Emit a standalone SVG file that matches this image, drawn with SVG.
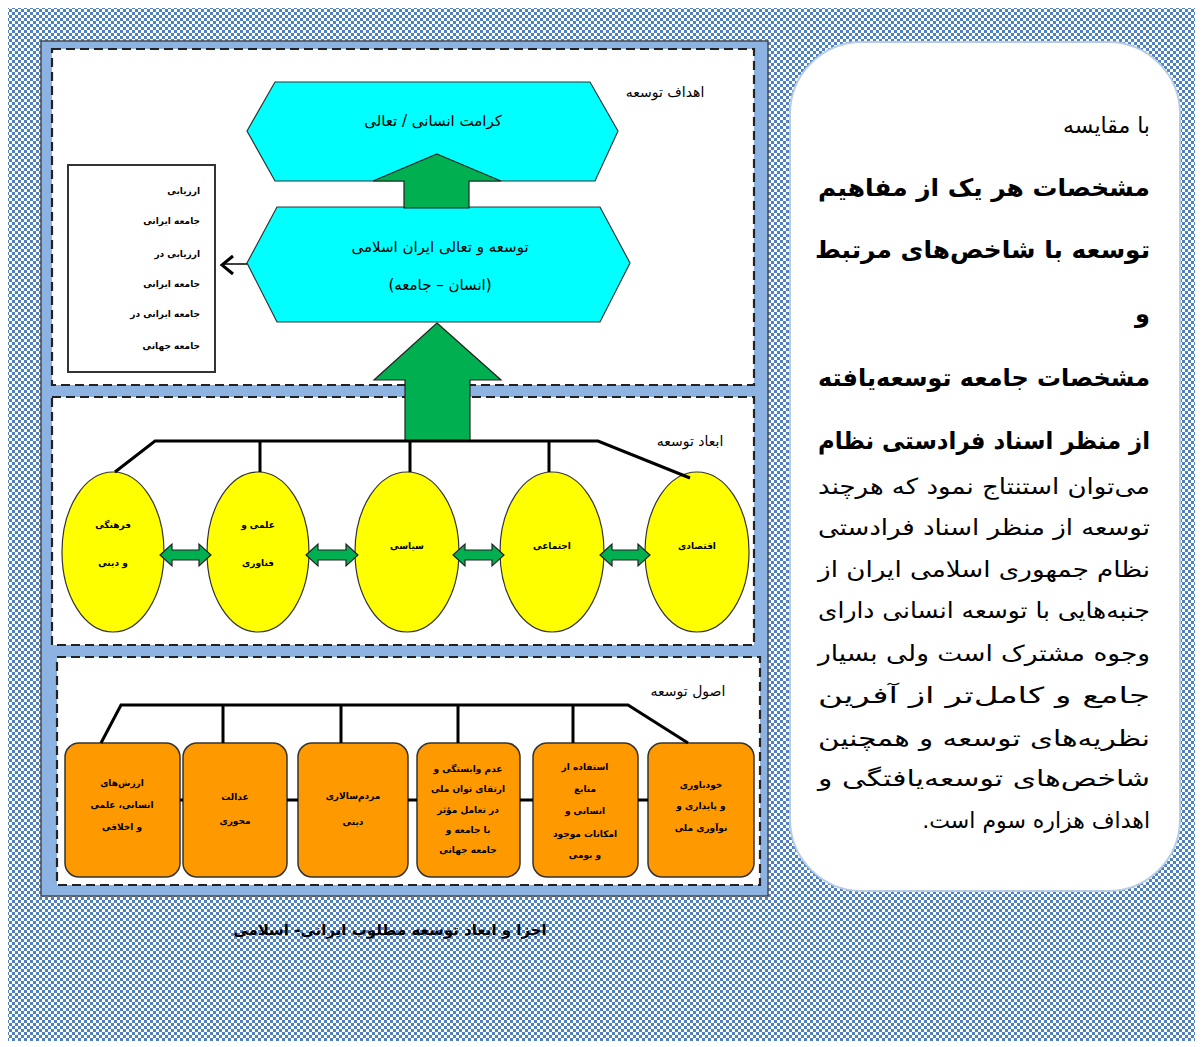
<svg xmlns="http://www.w3.org/2000/svg" width="1201" height="1047" viewBox="0 0 1201 1047">
<style>
.fa{font-family:"DejaVu Sans","Noto Sans",sans-serif;fill:#000;}
.rtl{direction:rtl;}
.lbl{font-size:14px;}
.hex{fill:#00ffff;stroke:#333;stroke-width:1.2;}
.garrow{fill:#00b050;stroke:#222;stroke-width:1.2;}
.ell{fill:#ffff00;stroke:#333;stroke-width:1.2;}
.box{fill:#ff9900;stroke:#333;stroke-width:1.5;}
.panel{fill:#fff;stroke:#222;stroke-width:2.2;stroke-dasharray:9 5;}
.brk{fill:none;stroke:#000;stroke-width:3;}
.tiny{font-size:9px;font-weight:bold;}
.big{font-size:24px;font-weight:bold;}
.body{font-size:22px;}
</style>
<defs>
<pattern id="chk" width="6" height="6" patternUnits="userSpaceOnUse">
<rect width="6" height="6" fill="#ffffff"/>
<rect width="3" height="3" fill="#4f80c4"/>
<rect x="3" y="3" width="3" height="3" fill="#4f80c4"/>
</pattern>
</defs>
<rect width="1201" height="1047" fill="#fff"/>
<rect x="8" y="8" width="1187" height="1033" fill="url(#chk)"/>

<g id="frame">
<rect x="41" y="41" width="727" height="855" fill="#8db3e2" stroke="#4a4a4a" stroke-width="1.5"/>
<rect class="panel" x="52" y="49" width="702" height="336"/>
<rect class="panel" x="52" y="397" width="702" height="248"/>
<rect class="panel" x="57" y="657" width="703" height="228"/>
<text class="fa lbl" x="665" y="97" text-anchor="middle">اهداف توسعه</text>
<text class="fa lbl" x="690" y="446" text-anchor="middle">ابعاد توسعه</text>
<text class="fa lbl" x="688" y="696" text-anchor="middle">اصول توسعه</text>
</g>

<g id="hex-goal">
<polygon class="hex" points="275,82 590,82 618,131 595,181 275,181 247,131"/>
<text class="fa rtl" x="433" y="126" text-anchor="middle" font-size="15">کرامت انسانی / تعالی</text>
</g>
<g id="hex-dev">
<polygon class="hex" points="277,207 600,207 630,263 600,322 277,322 247,263"/>
<text class="fa rtl" x="440" y="252" text-anchor="middle" font-size="15">توسعه و تعالی ایران اسلامی</text>
<text class="fa rtl" x="440" y="290" text-anchor="middle" font-size="15">(انسان – جامعه)</text>
</g>
<g id="left-box">
<rect x="68" y="165" width="147" height="207" fill="#fff" stroke="#333" stroke-width="2"/>
<g class="fa tiny rtl" text-anchor="start">
<text x="200" y="194">ارزیابی</text>
<text x="200" y="224">جامعه ایرانی</text>
<text x="200" y="257">ارزیابی در</text>
<text x="200" y="287">جامعه ایرانی</text>
<text x="200" y="317">جامعه ایرانی در</text>
<text x="200" y="349">جامعه جهانی</text>
</g>
</g>

<g id="dim-cultural"><ellipse class="ell" cx="113" cy="552" rx="51" ry="80"/>
<text class="fa tiny rtl" x="113" y="528" text-anchor="middle">فرهنگی</text><text class="fa tiny rtl" x="113" y="566" text-anchor="middle">و دینی</text></g>
<g id="dim-science"><ellipse class="ell" cx="258" cy="552" rx="51" ry="80"/>
<text class="fa tiny rtl" x="258" y="528" text-anchor="middle">علمی و</text><text class="fa tiny rtl" x="258" y="566" text-anchor="middle">فناوری</text></g>
<g id="dim-political"><ellipse class="ell" cx="407" cy="552" rx="52" ry="80"/>
<text class="fa tiny rtl" x="407" y="549" text-anchor="middle">سیاسی</text></g>
<g id="dim-social"><ellipse class="ell" cx="552" cy="552" rx="52" ry="80"/>
<text class="fa tiny rtl" x="552" y="549" text-anchor="middle">اجتماعی</text></g>
<g id="dim-economic"><ellipse class="ell" cx="697" cy="552" rx="52" ry="80"/>
<text class="fa tiny rtl" x="697" y="549" text-anchor="middle">اقتصادی</text></g>

<g id="p1"><rect class="box" x="65" y="743" width="115" height="134" rx="14"/>
<text class="fa tiny rtl" x="122" y="786" text-anchor="middle">ارزش‌های</text><text class="fa tiny rtl" x="122" y="808" text-anchor="middle">انسانی، علمی</text><text class="fa tiny rtl" x="122" y="830" text-anchor="middle">و اخلاقی</text></g>
<g id="p2"><rect class="box" x="183" y="743" width="104" height="134" rx="14"/>
<text class="fa tiny rtl" x="235" y="800" text-anchor="middle">عدالت</text><text class="fa tiny rtl" x="235" y="824" text-anchor="middle">محوری</text></g>
<g id="p3"><rect class="box" x="298" y="743" width="110" height="134" rx="14"/>
<text class="fa tiny rtl" x="353" y="799" text-anchor="middle">مردم‌سالاری</text><text class="fa tiny rtl" x="353" y="825" text-anchor="middle">دینی</text></g>
<g id="p4"><rect class="box" x="417" y="743" width="103" height="134" rx="14"/>
<text class="fa tiny rtl" x="468" y="772" text-anchor="middle">عدم وابستگی و</text><text class="fa tiny rtl" x="468" y="792" text-anchor="middle">ارتقای توان ملی</text><text class="fa tiny rtl" x="468" y="813" text-anchor="middle">در تعامل مؤثر</text><text class="fa tiny rtl" x="468" y="833" text-anchor="middle">با جامعه و</text><text class="fa tiny rtl" x="468" y="853" text-anchor="middle">جامعه جهانی</text></g>
<g id="p5"><rect class="box" x="533" y="743" width="105" height="134" rx="14"/>
<text class="fa tiny rtl" x="585" y="770" text-anchor="middle">استفاده از</text><text class="fa tiny rtl" x="585" y="792" text-anchor="middle">منابع</text><text class="fa tiny rtl" x="585" y="814" text-anchor="middle">انسانی و</text><text class="fa tiny rtl" x="585" y="837" text-anchor="middle">امکانات موجود</text><text class="fa tiny rtl" x="585" y="858" text-anchor="middle">و بومی</text></g>
<g id="p6"><rect class="box" x="648" y="743" width="106" height="134" rx="14"/>
<text class="fa tiny rtl" x="701" y="788" text-anchor="middle">خودباوری</text><text class="fa tiny rtl" x="701" y="809" text-anchor="middle">و پایداری و</text><text class="fa tiny rtl" x="701" y="831" text-anchor="middle">نوآوری ملی</text></g>

<g id="connectors">
<path class="garrow" d="M437,154 L501,181 L469,181 L469,208 L404,208 L404,181 L373,181 Z"/>
<path class="garrow" d="M437,323 L501,380 L470,380 L470,441 L405,441 L405,380 L374,380 Z"/>
<path class="brk" d="M115,472 L155,441 L598,441 L690,478 M260,441 V472 M410,441 V472 M549,441 V472"/>
<path class="brk" d="M101,743 L121,705 L628,705 L688,743 M223,705 V743 M341,705 V743 M458,705 V743 M573,705 V743"/>
<path d="M180,800 H183 M287,800 H298 M408,800 H417 M520,800 H533 M638,800 H648" stroke="#000" stroke-width="3"/>
<path d="M247,264 H223" stroke="#000" stroke-width="1.5"/>
<path d="M233,256 L222,265 L233,274" fill="none" stroke="#000" stroke-width="3"/>
<path class="garrow" d="M160,555 L172,544 L172,550 L199,550 L199,544 L211,555 L199,566 L199,560 L172,560 L172,566 Z"/>
<path class="garrow" d="M306,555 L318,544 L318,550 L346,550 L346,544 L358,555 L346,566 L346,560 L318,560 L318,566 Z"/>
<path class="garrow" d="M453,555 L465,544 L465,550 L492,550 L492,544 L504,555 L492,566 L492,560 L465,560 L465,566 Z"/>
<path class="garrow" d="M600,555 L612,544 L612,550 L638,550 L638,544 L650,555 L638,566 L638,560 L612,560 L612,566 Z"/>
</g>

<g id="caption">
<text class="fa rtl" x="390" y="935" text-anchor="middle" font-size="15" font-weight="bold">اجزا و ابعاد توسعه مطلوب ایرانی- اسلامی</text>
</g>

<g id="text-panel">
<rect x="790" y="42" width="390" height="849" rx="72" fill="#fff" stroke="#b8cce4" stroke-width="2"/>
<g class="fa rtl" text-anchor="start">
<text class="body" x="1150" y="133">با مقایسه</text>
<text class="big" x="1150" y="196" textLength="332" lengthAdjust="spacingAndGlyphs">مشخصات هر یک از مفاهیم</text>
<text class="big" x="1150" y="258" textLength="335" lengthAdjust="spacingAndGlyphs">توسعه با شاخص‌های مرتبط</text>
<text class="big" x="1150" y="322">و</text>
<text class="big" x="1150" y="386" textLength="332" lengthAdjust="spacingAndGlyphs">مشخصات جامعه توسعه‌یافته</text>
<text class="big" x="1150" y="449" textLength="332" lengthAdjust="spacingAndGlyphs">از منظر اسناد فرادستی نظام</text>
<text class="body" x="1150" y="494" textLength="332" lengthAdjust="spacingAndGlyphs">می‌توان استنتاج نمود که هرچند</text>
<text class="body" x="1150" y="535" textLength="332" lengthAdjust="spacingAndGlyphs">توسعه از منظر اسناد فرادستی</text>
<text class="body" x="1150" y="577" textLength="332" lengthAdjust="spacingAndGlyphs">نظام جمهوری اسلامی ایران از</text>
<text class="body" x="1150" y="618" textLength="332" lengthAdjust="spacingAndGlyphs">جنبه‌هایی با توسعه انسانی دارای</text>
<text class="body" x="1150" y="661" textLength="332" lengthAdjust="spacingAndGlyphs">وجوه مشترک است ولی بسیار</text>
<text class="body" x="1150" y="703" textLength="332" lengthAdjust="spacingAndGlyphs">جامع و کامل‌تر از آفرین</text>
<text class="body" x="1150" y="746" textLength="332" lengthAdjust="spacingAndGlyphs">نظریه‌های توسعه و همچنین</text>
<text class="body" x="1150" y="786" textLength="332" lengthAdjust="spacingAndGlyphs">شاخص‌های توسعه‌یافتگی و</text>
<text class="body" x="1150" y="828">اهداف هزاره سوم است.</text>
</g>
</g>
</svg>
